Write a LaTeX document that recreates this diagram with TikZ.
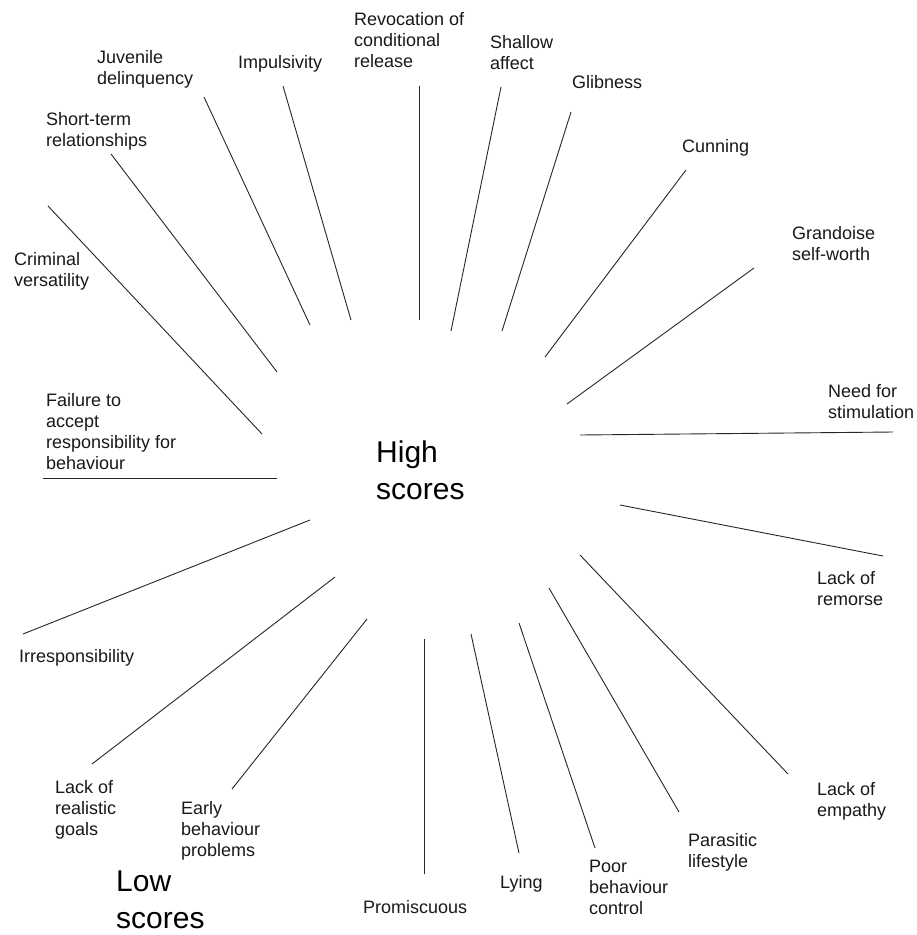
\documentclass[tikz,border=0pt]{standalone}
\usepackage{fontspec}
\setmainfont{Liberation Sans}
\begin{document}
\begin{tikzpicture}[x=1pt,y=-1pt,
  lbl/.style={anchor=base west,inner sep=0pt,align=left,text=black!90,
    font=\fontsize{18}{21}\selectfont},
  big/.style={anchor=base west,inner sep=0pt,align=left,text=black,
    font=\fontsize{30}{37}\selectfont},
  ray/.style={line width=0.9pt,black!85}]
\useasboundingbox (0,0) rectangle (917,935);
\fill[white] (0,0) rectangle (917,935);
% labels (anchor = baseline of the last line)
\node[lbl] (revoc) at (354,67) {Revocation of\\conditional\\release};
\node[lbl] (shallow) at (490,69) {Shallow\\affect};
\node[lbl] (glib) at (572,88) {Glibness};
\node[lbl] (cunning) at (682,152) {Cunning};
\node[lbl] (grand) at (792,260) {Grandoise\\self-worth};
\node[lbl] (need) at (828,418) {Need for\\stimulation};
\node[lbl] (remorse) at (817,605) {Lack of\\remorse};
\node[lbl] (empathy) at (817,816) {Lack of\\empathy};
\node[lbl] (parasit) at (688,867) {Parasitic\\lifestyle};
\node[lbl] (poor) at (589,914) {Poor\\behaviour\\control};
\node[lbl] (lying) at (500,888) {Lying};
\node[lbl] (promis) at (363,913) {Promiscuous};
\node[lbl] (early) at (181,856) {Early\\behaviour\\problems};
\node[lbl] (goals) at (55,835) {Lack of\\realistic\\goals};
\node[lbl] (irresp) at (19,662) {Irresponsibility};
\node[lbl] (failure) at (46,469) {Failure to\\accept\\responsibility for\\behaviour};
\node[lbl] (criminal) at (14,286) {Criminal\\versatility};
\node[lbl] (short) at (46,146) {Short-term\\relationships};
\node[lbl] (juven) at (97,84) {Juvenile\\delinquency};
\node[lbl] (impuls) at (238,68) {Impulsivity};
\node[big] (high) at (376,499) {High\\scores};
\node[big] (low) at (116,928) {Low\\scores};
% ray end points (outer o*, inner i*)
\coordinate (o1) at (419,86);   \coordinate (i1) at (419,320);
\coordinate (o2) at (501,87);   \coordinate (i2) at (451,331);
\coordinate (o3) at (571,112);  \coordinate (i3) at (502,331);
\coordinate (o4) at (686,170);  \coordinate (i4) at (545,357);
\coordinate (o5) at (754,268);  \coordinate (i5) at (567,404);
\coordinate (o6) at (893,432);  \coordinate (i6) at (580,435);
\coordinate (o7) at (883,556);  \coordinate (i7) at (620,505);
\coordinate (o8) at (788,774);  \coordinate (i8) at (580,555);
\coordinate (o9) at (679,812);  \coordinate (i9) at (549,588);
\coordinate (o10) at (595,848); \coordinate (i10) at (519,623);
\coordinate (o11) at (519,853); \coordinate (i11) at (471,634);
\coordinate (o12) at (424,874); \coordinate (i12) at (424,639);
\coordinate (o13) at (232,789); \coordinate (i13) at (367,619);
\coordinate (o14) at (92,764);  \coordinate (i14) at (335,577);
\coordinate (o15) at (23,634);  \coordinate (i15) at (310,520);
\coordinate (o16) at (43,478);  \coordinate (i16) at (277,478);
\coordinate (o17) at (48,206);  \coordinate (i17) at (262,434);
\coordinate (o18) at (111,154); \coordinate (i18) at (277,372);
\coordinate (o19) at (204,97);  \coordinate (i19) at (310,325);
\coordinate (o20) at (283,86);  \coordinate (i20) at (351,320);
\foreach \k in {1,...,20} {\draw[ray] (o\k) -- (i\k);}
\end{tikzpicture}
\end{document}
